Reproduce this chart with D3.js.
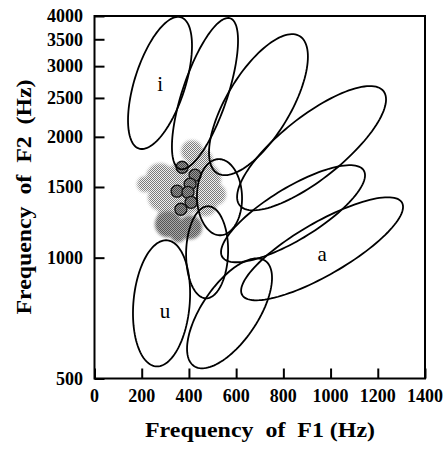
<!DOCTYPE html>
<html><head><meta charset="utf-8">
<script src="https://cdn.jsdelivr.net/npm/d3@7"></script>
<style>
body{margin:0;background:#fff}
text{font-family:"Liberation Serif","Times New Roman",serif}
</style>
</head><body>
<svg id="chart" width="446" height="449"></svg>
<script>
// ---- data ----
const xTickValues = [0, 200, 400, 600, 800, 1000, 1200, 1400];
const yTickValues = [500, 1000, 1500, 2000, 2500, 3000, 3500, 4000];

// vowel-category ellipses: F1 extent, F2 extent, F1 at the topmost point
const ellF1Min = [142, 328, 485, 604, 536, 621, 434, 388, 163, 392];
const ellF1Max = [413, 608, 904, 1235, 1146, 1307, 625, 566, 405, 752];
const ellF2Min = [1865, 1660, 1605, 1312, 974, 783, 1137, 792, 536, 530];
const ellF2Max = [3980, 3955, 3605, 2676, 1700, 1414, 1760, 1343, 1105, 996];
const ellF1Top = [354, 566, 837, 1167, 1082, 1243, 527, 481, 303, 688];

const vowelLabels = ["i", "a", "u"];
const vowelF1 = [278, 964, 299];
const vowelF2 = [2707, 1019, 735];

// measured tokens (circles)
const tokenF1 = [371, 426, 405, 350, 396, 409, 366];
const tokenF2 = [1680, 1605, 1524, 1464, 1455, 1374, 1320];

// shaded distribution cloud (F1, F2, radius in Hz of F1)
const cloudF1 = [413, 447, 278, 214, 362, 468, 510, 286, 383, 468, 320];
const cloudF2 = [1842, 1739, 1586, 1524, 1568, 1568, 1439, 1414, 1398, 1358, 1283];
const cloudR  = [46, 55, 59, 34, 68, 68, 47, 59, 68, 51, 51];
const coreF1 = [311, 405, 354];
const coreF2 = [1211, 1190, 1143];
const coreR  = [55, 51, 34];

// ---- chart ----
const svg = d3.select("#chart");
const x = d3.scaleLinear().domain([0, 1400]).range([94.5, 425]);
const y = d3.scaleLog().domain([500, 4000]).range([378.5, 16]);

const defs = svg.append("defs");
function checker(id, a, b) {
  const p = defs.append("pattern").attr("id", id).attr("patternUnits", "userSpaceOnUse")
    .attr("width", 2).attr("height", 2);
  p.append("rect").attr("width", 2).attr("height", 2).attr("fill", b);
  p.append("rect").attr("x", 0).attr("y", 0).attr("width", 1).attr("height", 1).attr("fill", a);
  p.append("rect").attr("x", 1).attr("y", 1).attr("width", 1).attr("height", 1).attr("fill", a);
}
checker("lightTone", "#7a7a7a", "#f0f0f0");
checker("darkTone", "#555555", "#a8a8a8");
checker("tokTone", "#444444", "#9a9a9a");
defs.append("filter").attr("id", "soft").append("feGaussianBlur").attr("stdDeviation", 1.4);

function cloudMask(id, f1, f2, r) {
  const m = defs.append("mask").attr("id", id).attr("maskUnits", "userSpaceOnUse")
    .attr("x", 0).attr("y", 0).attr("width", 446).attr("height", 449);
  m.append("g").attr("filter", "url(#soft)").selectAll("circle").data(f1).join("circle")
    .attr("cx", d => x(d)).attr("cy", (d, i) => y(f2[i]))
    .attr("r", (d, i) => x(r[i]) - x(0)).attr("fill", "#fff");
}
cloudMask("cloudMask", cloudF1, cloudF2, cloudR);
cloudMask("coreMask", coreF1, coreF2, coreR);

svg.append("rect").attr("x", 0).attr("y", 0).attr("width", 446).attr("height", 449)
  .attr("fill", "url(#lightTone)").attr("mask", "url(#cloudMask)");
svg.append("rect").attr("x", 0).attr("y", 0).attr("width", 446).attr("height", 449)
  .attr("fill", "url(#darkTone)").attr("mask", "url(#coreMask)");

// tokens
svg.append("g").selectAll("circle").data(tokenF1).join("circle")
  .attr("cx", d => x(d)).attr("cy", (d, i) => y(tokenF2[i])).attr("r", 6)
  .attr("fill", "url(#tokTone)").attr("stroke", "#111").attr("stroke-width", 1.3);

// ellipses
function ellipsePath(i) {
  const x0 = x(ellF1Min[i]), x1 = x(ellF1Max[i]);
  const yTop = y(ellF2Max[i]), yBot = y(ellF2Min[i]);
  const cx = (x0 + x1) / 2, cy = (yTop + yBot) / 2;
  const W = (x1 - x0) / 2, H = (yBot - yTop) / 2;
  const s = Math.max(-1, Math.min(1, (x(ellF1Top[i]) - cx) / W));
  const phi = Math.asin(s);
  const pts = d3.range(0, 121).map(k => {
    const t = k / 120 * 2 * Math.PI;
    return [cx + W * Math.cos(t), cy - H * Math.sin(t + phi)];
  });
  return d3.line().curve(d3.curveLinearClosed)(pts);
}
svg.append("g").selectAll("path").data(ellF1Min).join("path")
  .attr("d", (d, i) => ellipsePath(i))
  .attr("fill", "none").attr("stroke", "#000").attr("stroke-width", 1.8);

// vowel labels
svg.append("g").selectAll("text").data(vowelLabels).join("text")
  .attr("x", (d, i) => x(vowelF1[i])).attr("y", (d, i) => y(vowelF2[i]))
  .attr("text-anchor", "middle").attr("dy", "0.32em")
  .attr("font-size", 21).text(d => d);

// frame
svg.append("rect").attr("x", x(0)).attr("y", y(4000))
  .attr("width", x(1400) - x(0)).attr("height", y(500) - y(4000))
  .attr("fill", "none").attr("stroke", "#000").attr("stroke-width", 2);

// axes (inward ticks)
const xAxis = d3.axisTop(x).tickValues(xTickValues).tickSize(10).tickFormat("");
const gx = svg.append("g").attr("transform", `translate(0,${y(500)})`).call(xAxis);
const yAxis = d3.axisRight(y).tickValues(yTickValues).tickSize(10).tickFormat("");
const gy = svg.append("g").attr("transform", `translate(${x(0)},0)`).call(yAxis);
[gx, gy].forEach(g => {
  g.select(".domain").remove();
  g.selectAll("line").attr("stroke", "#000").attr("stroke-width", 2);
});

// tick labels
svg.append("g").selectAll("text").data(xTickValues).join("text")
  .attr("x", d => x(d)).attr("y", 402).attr("text-anchor", "middle")
  .attr("font-size", 18).attr("font-weight", "bold").text(d => d);
svg.append("g").selectAll("text").data(yTickValues).join("text")
  .attr("x", 83).attr("y", d => y(d)).attr("dy", "0.35em").attr("text-anchor", "end")
  .attr("font-size", 18).attr("font-weight", "bold").text(d => d);

// axis titles
svg.append("text").attr("x", 260).attr("y", 437).attr("text-anchor", "middle")
  .attr("xml:space", "preserve").style("white-space", "pre")
  .attr("font-size", 20).attr("font-weight", "bold")
  .attr("textLength", 230).attr("lengthAdjust", "spacingAndGlyphs")
  .text("Frequency  of  F1 (Hz)");
svg.append("text").attr("transform", "translate(31,197) rotate(-90)").attr("text-anchor", "middle")
  .attr("xml:space", "preserve").style("white-space", "pre")
  .attr("font-size", 20).attr("font-weight", "bold")
  .attr("textLength", 235).attr("lengthAdjust", "spacingAndGlyphs")
  .text("Frequency  of  F2  (Hz)");
</script>
</body></html>
